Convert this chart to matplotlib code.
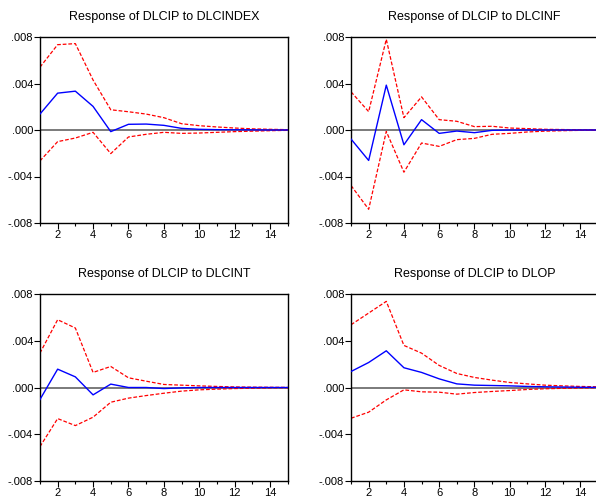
import matplotlib
matplotlib.use('Agg')
import matplotlib.pyplot as plt
import numpy as np

plt.rcParams['font.family'] = ['Liberation Sans', 'DejaVu Sans']

periods = list(range(1, 16))

titles = ['Response of DLCIP to DLCINDEX', 'Response of DLCIP to DLCINF',
          'Response of DLCIP to DLCINT', 'Response of DLCIP to DLOP']

# impulse responses (blue) and +/- 2 S.E. bands (red)
resp_index = [0.00137, 0.00317, 0.00334, 0.00203, -0.00014, 0.00049, 0.00051, 0.00040,
              0.00014, 0.00006, 0.00003, 0.00002, 0.00001, 0.0, 0.0]
upper_index = [0.0054, 0.00734, 0.00743, 0.0043, 0.00174, 0.00157, 0.00137, 0.00106,
               0.00054, 0.00037, 0.00026, 0.00017, 0.0001, 0.00006, 0.00003]
lower_index = [-0.00266, -0.0010, -0.00069, -0.0002, -0.00203, -0.0006, -0.00037, -0.0002,
               -0.00029, -0.00026, -0.0002, -0.00014, -0.0001, -0.00006, -0.00003]

resp_inf = [-0.00078, -0.00262, 0.00386, -0.00127, 0.00089, -0.00029, -0.00009, -0.00023,
            -0.00003, 0.0, 0.0, 0.0, 0.0, 0.0, 0.0]
upper_inf = [0.00328, 0.00158, 0.0078, 0.00106, 0.00285, 0.00089, 0.00075, 0.00029,
             0.00032, 0.00017, 0.00012, 0.00006, 0.00004, 0.00002, 0.00001]
lower_inf = [-0.00478, -0.00682, -0.00012, -0.00363, -0.00112, -0.00141, -0.00083, -0.00072,
             -0.00037, -0.00029, -0.00017, -0.0001, -0.00006, -0.00003, -0.00002]

resp_int = [-0.00103, 0.00157, 0.00091, -0.00063, 0.00029, 0.0, 0.0, -0.00009,
            -0.00003, 0.0, 0.0, 0.0, 0.0, 0.0, 0.0]
upper_int = [0.00294, 0.0058, 0.00509, 0.00129, 0.0018, 0.00083, 0.00054, 0.00026,
             0.0002, 0.00014, 0.00009, 0.00005, 0.00003, 0.00002, 0.00001]
lower_int = [-0.00506, -0.00266, -0.00326, -0.00254, -0.00126, -0.00091, -0.00069, -0.00049,
             -0.00031, -0.0002, -0.00014, -0.00009, -0.00006, -0.00003, -0.00002]

resp_op = [0.00137, 0.00214, 0.00314, 0.00169, 0.00129, 0.00074, 0.00031, 0.0002,
           0.00017, 0.00014, 0.00009, 0.00006, 0.00004, 0.00002, 0.00001]
upper_op = [0.00537, 0.00637, 0.00737, 0.0036, 0.00294, 0.00189, 0.0012, 0.00086,
            0.00063, 0.00043, 0.00031, 0.0002, 0.00014, 0.00009, 0.00006]
lower_op = [-0.00263, -0.00211, -0.00106, -0.0002, -0.00037, -0.0004, -0.00057, -0.00043,
            -0.00034, -0.00026, -0.00017, -0.00011, -0.00007, -0.00004, -0.00002]

series = [(resp_index, upper_index, lower_index), (resp_inf, upper_inf, lower_inf),
          (resp_int, upper_int, lower_int), (resp_op, upper_op, lower_op)]

yticks = [-0.008, -0.004, 0.0, 0.004, 0.008]
ytick_labels = ['-.008', '-.004', '.000', '.004', '.008']

fig = plt.figure(figsize=(5.96, 5.0), dpi=100)

# axes boxes in figure fractions [left, bottom, width, height]
boxes = [[0.067, 0.554, 0.416, 0.372], [0.589, 0.554, 0.414, 0.372],
         [0.067, 0.038, 0.416, 0.374], [0.589, 0.038, 0.414, 0.374]]

for box, title, (resp, upper, lower) in zip(boxes, titles, series):
    ax = fig.add_axes(box)
    ax.axhline(0, color='#707070', lw=1.3, zorder=1)
    ax.plot(periods, upper, color='red', lw=0.9, ls=(0, (3, 1.5)), zorder=2)
    ax.plot(periods, lower, color='red', lw=0.9, ls=(0, (3, 1.5)), zorder=2)
    ax.plot(periods, resp, color='blue', lw=1.0, zorder=3)
    ax.set_xlim(1, 15)
    ax.set_ylim(-0.008, 0.008)
    ax.set_yticks(yticks)
    ax.set_yticklabels(ytick_labels)
    ax.set_xticks(range(2, 15, 2))
    ax.set_xticks(range(1, 16), minor=True)
    ax.tick_params(axis='both', direction='out', labelsize=8, length=4, width=0.8)
    ax.tick_params(axis='x', which='minor', length=2.5, width=0.8)
    ax.tick_params(axis='y', pad=1)
    ax.tick_params(axis='x', pad=1)
    for sp in ax.spines.values():
        sp.set_linewidth(1.0)
    ax.set_title(title, fontsize=9, pad=12)

fig.savefig('out.png', dpi=100)
plt.close()
